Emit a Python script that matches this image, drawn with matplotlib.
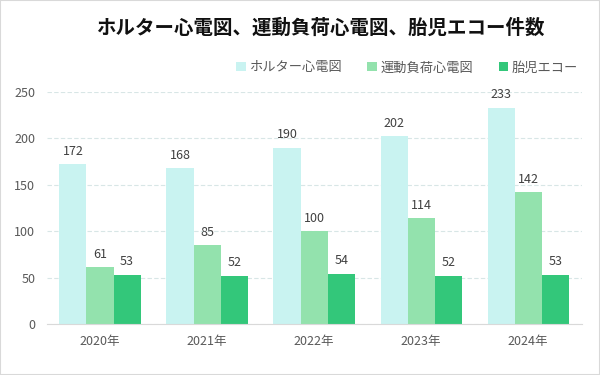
import matplotlib
matplotlib.use('Agg')
import matplotlib.pyplot as plt
import numpy as np

plt.rcParams['font.family'] = ['Noto Sans CJK JP', 'DejaVu Sans']

# Data
years = ['2020年', '2021年', '2022年', '2023年', '2024年']
holter = [172, 168, 190, 202, 233]
exercise = [61, 85, 100, 114, 142]
fetal_echo = [53, 52, 54, 52, 53]
series_names = ['ホルター心電図', '運動負荷心電図', '胎児エコー']

colors = ['#c9f3f1', '#93e2ad', '#33c77a']

fig = plt.figure(figsize=(6, 3.75), dpi=100)
ax = fig.add_axes([0.0775, 0.136, 0.892, 0.619])

x = np.arange(len(years))
w = 0.253
for i, (vals, name) in enumerate(zip([holter, exercise, fetal_echo], series_names)):
    bars = ax.bar(x + (i - 1) * w, vals, width=w, color=colors[i], label=name, zorder=2)
    for b, v in zip(bars, vals):
        ax.text(b.get_x() + b.get_width() / 2, v + 7, str(v), ha='center', va='bottom',
                fontsize=9, color='#404040')

ax.set_xlim(-0.5, 4.5)
ax.set_ylim(0, 250)
ax.set_yticks(range(0, 251, 50))
ax.set_xticks(x)
ax.set_xticklabels(years)
ax.grid(axis='y', color='#d8e6e6', linestyle=(0, (4, 2)), linewidth=0.8, zorder=0)
for s in ['top', 'right', 'left']:
    ax.spines[s].set_visible(False)
ax.spines['bottom'].set_color('#d9d9d9')
ax.tick_params(axis='both', length=0, labelsize=9, colors='#595959', pad=8)

fig.text(0.533, 0.925, 'ホルター心電図、運動負荷心電図、胎児エコー件数', ha='center', va='center',
         fontsize=14, fontweight='bold', color='#111111')
ax.legend(loc='center right', bbox_to_anchor=(0.993, 1.103), ncol=3, frameon=False,
          fontsize=9.5, handlelength=0.7, handleheight=0.7, columnspacing=1.9,
          handletextpad=0.3, labelcolor='#595959', borderpad=0, borderaxespad=0)

fig.patches.append(plt.Rectangle((0, 0), 1, 1, transform=fig.transFigure, fill=False,
                                 edgecolor='#d9d9d9', linewidth=1.5))
fig.savefig('out.png', dpi=100)
